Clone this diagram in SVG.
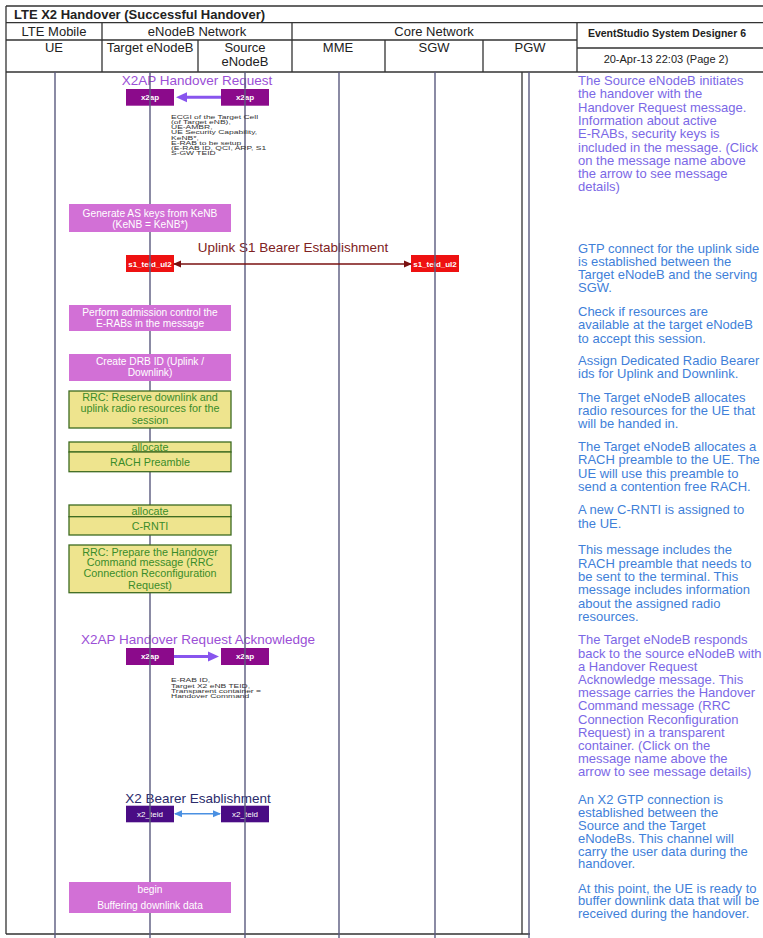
<svg xmlns="http://www.w3.org/2000/svg" width="763" height="938" viewBox="0 0 763 938">
<style>
text{font-family:"Liberation Sans",Arial,sans-serif}
.hd{font-size:13px;fill:#222;text-anchor:middle}
.frame{stroke:#333;stroke-width:1.3;fill:none}
.life{stroke:#5a5a7e;stroke-width:1.4}
.act{fill:#d270d6}
.actt{font-size:10.2px;fill:#fff;text-anchor:middle}
.res{fill:#eee48e;stroke:#3d6b21;stroke-width:1.3}
.rest{font-size:10.8px;fill:#3a8c2a;text-anchor:middle}
.mbox{fill:#8b0a8b}
.mt{font-size:8px;font-weight:bold;fill:#fff;text-anchor:middle}
.par{font-size:8.5px;fill:#333}
.cv{font-size:13px;fill:#7b68e6}
.cb{font-size:13px;fill:#3f7fd9}
</style>
<defs>
<marker id="ahV" markerUnits="userSpaceOnUse" markerWidth="12" markerHeight="12" viewBox="0 0 12 12" refX="1" refY="6" orient="auto"><path d="M0,1 L11,6 L0,11 z" fill="#8855ee"/></marker>
<marker id="ahR" markerUnits="userSpaceOnUse" markerWidth="8" markerHeight="8" viewBox="0 0 8 8" refX="7" refY="4" orient="auto-start-reverse"><path d="M0,0.5 L8,4 L0,7.5 z" fill="#7a1010"/></marker>
<marker id="ahB" markerUnits="userSpaceOnUse" markerWidth="8" markerHeight="8" viewBox="0 0 8 8" refX="7" refY="4" orient="auto-start-reverse"><path d="M0,0.5 L8,4 L0,7.5 z" fill="#4a90e2"/></marker>
</defs>
<rect width="763" height="938" fill="#fff"/>

<g id="header">
<path class="frame" d="M6 6H763M6 22.7H763M6 40H577M6 72H763M577 48H763M102 22.7V72M292 22.7V72M577 22.7V72M198 40V72M385 40V72M483 40V72"/>
<text x="14" y="18.5" style="font-size:13px;font-weight:bold;fill:#222">LTE X2 Handover (Successful Handover)</text>
<text class="hd" x="54" y="35.5">LTE Mobile</text>
<text class="hd" x="197" y="35.5">eNodeB Network</text>
<text class="hd" x="434" y="35.5">Core Network</text>
<text class="hd" x="54" y="52">UE</text>
<text class="hd" x="150" y="52">Target eNodeB</text>
<text class="hd" x="245" y="52">Source</text>
<text class="hd" x="245" y="66">eNodeB</text>
<text class="hd" x="338" y="52">MME</text>
<text class="hd" x="434" y="52">SGW</text>
<text class="hd" x="530" y="52">PGW</text>
<text x="667" y="37" style="font-size:10.5px;font-weight:bold;fill:#222;text-anchor:middle">EventStudio System Designer 6</text>
<text x="666" y="63" style="font-size:11px;fill:#222;text-anchor:middle">20-Apr-13 22:03 (Page 2)</text>
</g>

<g id="frame">
<path class="frame" d="M6 6V934M522 72V934M6 934H530"/>
</g>

<g id="messages">
<g id="msg-x2ap-req">
<text x="197" y="85" style="font-size:13.5px;fill:#9b4fd6;text-anchor:middle">X2AP Handover Request</text>
<rect class="mbox" x="126" y="89" width="48" height="16.7"/>
<rect class="mbox" x="221" y="89" width="48" height="16.7"/>
<text class="mt" x="150" y="100.2">x2ap</text>
<text class="mt" x="245" y="100.2">x2ap</text>
</g>
<g id="msg-s1">
<text x="293" y="252" style="font-size:13.5px;fill:#7e2222;text-anchor:middle">Uplink S1 Bearer Establishment</text>
<rect x="126" y="255" width="48" height="17" fill="#ee1111"/>
<rect x="411" y="255" width="48" height="17" fill="#ee1111"/>
<text class="mt" x="150" y="266.5">s1_teid_ul2</text>
<text class="mt" x="435" y="266.5">s1_teid_ul2</text>
</g>
<g id="msg-x2ap-ack">
<text x="198" y="644" style="font-size:13.5px;fill:#9b4fd6;text-anchor:middle">X2AP Handover Request Acknowledge</text>
<rect class="mbox" x="126" y="648" width="48" height="17"/>
<rect class="mbox" x="221" y="648" width="48" height="17"/>
<text class="mt" x="150" y="659.4">x2ap</text>
<text class="mt" x="245" y="659.4">x2ap</text>
</g>
<g id="msg-x2-bearer">
<text x="198" y="803" style="font-size:13.5px;fill:#2b2b6b;text-anchor:middle">X2 Bearer Esablishment</text>
<rect x="126" y="805.7" width="48" height="16.6" fill="#4a0c85"/>
<rect x="221" y="805.7" width="48" height="16.6" fill="#4a0c85"/>
<text class="mt" x="150" y="817" style="font-weight:normal">x2_teid</text>
<text class="mt" x="245" y="817" style="font-weight:normal">x2_teid</text>
</g>
</g>

<g id="lifelines">
<path class="life" d="M55 72V938M150 72V938M245 72V938M339 72V938M435 72V938M529 72V938"/>
</g>

<g id="connectors">
<line x1="221" y1="97.3" x2="186" y2="97.3" stroke="#8855ee" stroke-width="3" marker-end="url(#ahV)"/>
<line x1="174" y1="264" x2="411" y2="264" stroke="#7a1010" stroke-width="1.5" marker-start="url(#ahR)" marker-end="url(#ahR)"/>
<line x1="174" y1="656.5" x2="209" y2="656.5" stroke="#8855ee" stroke-width="3" marker-end="url(#ahV)"/>
<line x1="175" y1="813.7" x2="220" y2="813.7" stroke="#4a90e2" stroke-width="1.4" marker-start="url(#ahB)" marker-end="url(#ahB)"/>
</g>

<g id="params1" transform="translate(171,0) scale(1,0.65)">
<text class="par" x="0" y="183.4">ECGI of the Target Cell</text>
<text class="par" x="0" y="191.2">(of Target eNB),</text>
<text class="par" x="0" y="199.1">UE-AMBR,</text>
<text class="par" x="0" y="206.9">UE Security Capability,</text>
<text class="par" x="0" y="214.8">KeNB*,</text>
<text class="par" x="0" y="222.6">E-RAB to be setup</text>
<text class="par" x="0" y="230.5">(E-RAB ID, QCI, ARP, S1</text>
<text class="par" x="0" y="238.3">S-GW TEID</text>
</g>
<g id="params2" transform="translate(171,0) scale(1,0.65)">
<text class="par" x="0" y="1050">E-RAB ID,</text>
<text class="par" x="0" y="1057.8">Target X2 eNB TEID,</text>
<text class="par" x="0" y="1065.7">Transparent container =</text>
<text class="par" x="0" y="1073.5">Handover Command</text>
</g>

<g id="act-genkeys">
<rect class="act" x="69" y="204" width="162" height="28"/>
<text class="actt" x="150" y="217">Generate AS keys from KeNB</text>
<text class="actt" x="150" y="227.7">(KeNB = KeNB*)</text>
</g>
<g id="act-admission">
<rect class="act" x="69" y="305" width="162" height="26"/>
<text class="actt" x="150" y="316.4">Perform admission control the</text>
<text class="actt" x="150" y="327">E-RABs in the message</text>
</g>
<g id="act-drb">
<rect class="act" x="69" y="354" width="162" height="27"/>
<text class="actt" x="150" y="365.2">Create DRB ID (Uplink /</text>
<text class="actt" x="150" y="375.6">Downlink)</text>
</g>
<g id="res-reserve">
<rect class="res" x="69" y="391" width="162" height="37"/>
<text class="rest" x="150" y="401.2">RRC: Reserve downlink and</text>
<text class="rest" x="150" y="412.4">uplink radio resources for the</text>
<text class="rest" x="150" y="423.9">session</text>
</g>
<g id="res-rach">
<rect class="res" x="69" y="442" width="162" height="10"/>
<rect class="res" x="69" y="452" width="162" height="19.7"/>
<text class="rest" x="150" y="450.5">allocate</text>
<text class="rest" x="150" y="466">RACH Preamble</text>
</g>
<g id="res-crnti">
<rect class="res" x="69" y="505" width="162" height="11.7"/>
<rect class="res" x="69" y="516.7" width="162" height="18.3"/>
<text class="rest" x="150" y="514.5">allocate</text>
<text class="rest" x="150" y="530.3">C-RNTI</text>
</g>
<g id="res-prepare">
<rect class="res" x="69" y="545" width="162" height="47.7"/>
<text class="rest" x="150" y="555.6">RRC: Prepare the Handover</text>
<text class="rest" x="150" y="566.4">Command message (RRC</text>
<text class="rest" x="150" y="577.4">Connection Reconfiguration</text>
<text class="rest" x="150" y="588.9">Request)</text>
</g>
<g id="act-buffer">
<rect class="act" x="69" y="882" width="162" height="31"/>
<text class="actt" x="150" y="892.7">begin</text>
<text class="actt" x="150" y="908.7">Buffering downlink data</text>
</g>

<g id="comments">
<text class="cv" x="578" y="85">The Source eNodeB initiates</text>
<text class="cv" x="578" y="98.3">the handover with the</text>
<text class="cv" x="578" y="111.6">Handover Request message.</text>
<text class="cv" x="578" y="124.9">Information about active</text>
<text class="cv" x="578" y="138.2">E-RABs, security keys is</text>
<text class="cv" x="578" y="151.5">included in the message. (Click</text>
<text class="cv" x="578" y="164.8">on the message name above</text>
<text class="cv" x="578" y="178.1">the arrow to see message</text>
<text class="cv" x="578" y="191.4">details)</text>

<text class="cb" x="578" y="252.6">GTP connect for the uplink side</text>
<text class="cb" x="578" y="265.7">is established between the</text>
<text class="cb" x="578" y="278.8">Target eNodeB and the serving</text>
<text class="cb" x="578" y="291.9">SGW.</text>

<text class="cb" x="578" y="316">Check if resources are</text>
<text class="cb" x="578" y="329.3">available at the target eNodeB</text>
<text class="cb" x="578" y="342.6">to accept this session.</text>

<text class="cb" x="578" y="365">Assign Dedicated Radio Bearer</text>
<text class="cb" x="578" y="378.3">ids for Uplink and Downlink.</text>

<text class="cb" x="578" y="401.6">The Target eNodeB allocates</text>
<text class="cb" x="578" y="414.9">radio resources for the UE that</text>
<text class="cb" x="578" y="428.2">will be handed in.</text>

<text class="cb" x="578" y="451">The Target eNodeB allocates a</text>
<text class="cb" x="578" y="464.3">RACH preamble to the UE. The</text>
<text class="cb" x="578" y="477.6">UE will use this preamble to</text>
<text class="cb" x="578" y="490.9">send a contention free RACH.</text>

<text class="cb" x="578" y="514.3">A new C-RNTI is assigned to</text>
<text class="cb" x="578" y="527.6">the UE.</text>

<text class="cb" x="578" y="554.3">This message includes the</text>
<text class="cb" x="578" y="567.6">RACH preamble that needs to</text>
<text class="cb" x="578" y="580.9">be sent to the terminal. This</text>
<text class="cb" x="578" y="594.2">message includes information</text>
<text class="cb" x="578" y="607.5">about the assigned radio</text>
<text class="cb" x="578" y="620.8">resources.</text>

<text class="cv" x="578" y="644.3">The Target eNodeB responds</text>
<text class="cv" x="578" y="657.5">back to the source eNodeB with</text>
<text class="cv" x="578" y="670.7">a Handover Request</text>
<text class="cv" x="578" y="683.9">Acknowledge message. This</text>
<text class="cv" x="578" y="697.1">message carries the Handover</text>
<text class="cv" x="578" y="710.3">Command message (RRC</text>
<text class="cv" x="578" y="723.5">Connection Reconfiguration</text>
<text class="cv" x="578" y="736.7">Request) in a transparent</text>
<text class="cv" x="578" y="749.9">container. (Click on the</text>
<text class="cv" x="578" y="763.1">message name above the</text>
<text class="cv" x="578" y="776.3">arrow to see message details)</text>

<text class="cb" x="578" y="804.3">An X2 GTP connection is</text>
<text class="cb" x="578" y="817.1">established between the</text>
<text class="cb" x="578" y="829.9">Source and the Target</text>
<text class="cb" x="578" y="842.7">eNodeBs. This channel will</text>
<text class="cb" x="578" y="855.5">carry the user data during the</text>
<text class="cb" x="578" y="868.3">handover.</text>

<text class="cb" x="578" y="892.5">At this point, the UE is ready to</text>
<text class="cb" x="578" y="905.2">buffer downlink data that will be</text>
<text class="cb" x="578" y="917.9">received during the handover.</text>
</g>
</svg>
